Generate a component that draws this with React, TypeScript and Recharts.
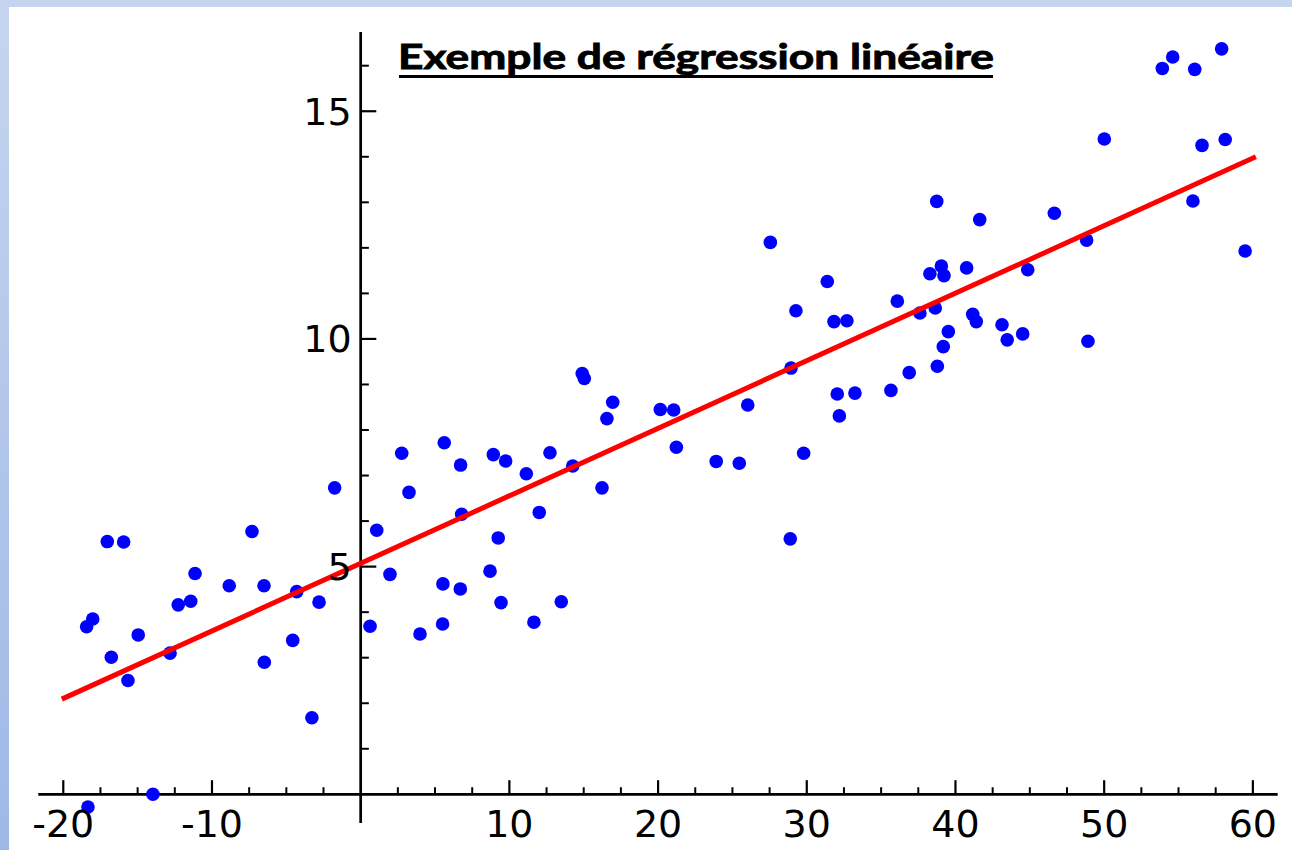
import React from 'react';
import { ScatterChart, Scatter, XAxis, YAxis, ReferenceLine } from 'recharts';

const chartTitle = 'Exemple de régression linéaire';

const pointX = [
  -18.34, -18.43, -18.02, -17.04, -16.77, -15.94, -15.65, -14.96, -13.97, -12.82,
  -12.27, -11.43, -11.14, -8.84, -7.31, -6.5, -6.48, -4.57, -4.3, -3.28,
  -2.8, -1.75, 0.63, 1.08, 1.97, 2.76, 3.25, 3.99, 5.51, 5.53,
  5.62, 6.7, 6.72, 6.79, 8.7, 8.92, 9.25, 9.44, 9.75, 11.14,
  11.65, 12.01, 12.73, 13.49, 14.26, 14.9, 15.04, 16.23, 16.56, 16.95,
  20.15, 21.05, 21.23, 23.91, 25.46, 26.03, 27.55, 28.89, 28.94, 29.27,
  29.79, 31.38, 31.83, 32.05, 32.19, 32.7, 33.24, 35.66, 36.09, 36.89,
  37.61, 38.28, 38.64, 38.74, 38.78, 39.05, 39.23, 39.18, 39.52, 40.75,
  41.16, 41.4, 41.63, 43.13, 43.48, 44.52, 44.86, 46.65, 48.82, 48.91,
  50.01, 53.91, 54.61, 56.09, 55.97, 56.58, 57.9, 58.14, 59.48,
];

const pointY = [
  -0.28, 3.68, 3.85, 5.55, 3.01, 5.54, 2.5, 3.5, 0.0, 3.1,
  4.16, 4.24, 4.85, 4.58, 5.77, 4.58, 2.9, 3.38, 4.45, 1.68,
  4.22, 6.73, 3.69, 5.8, 4.83, 7.49, 6.63, 3.52, 3.74, 4.62,
  7.72, 4.51, 7.23, 6.15, 4.9, 7.46, 5.63, 4.21, 7.32, 7.04,
  3.78, 6.19, 7.5, 4.23, 7.21, 9.24, 9.13, 6.73, 8.25, 8.61,
  8.45, 8.44, 7.62, 7.31, 7.27, 8.55, 12.12, 5.61, 9.36, 10.62,
  7.49, 11.26, 10.38, 8.79, 8.31, 10.4, 8.81, 8.87, 10.83, 9.26,
  10.57, 11.43, 10.68, 13.02, 9.4, 11.6, 11.39, 9.83, 10.16, 11.56,
  10.54, 10.38, 12.62, 10.31, 9.98, 10.11, 11.52, 12.76, 12.17, 9.95,
  14.39, 15.94, 16.19, 15.92, 13.03, 14.25, 16.37, 14.38, 11.93,
];

const fitX = [-20.1, 60.2];
const fitY = [2.09, 14.0];

const xMajorTicks = [-20, -10, 10, 20, 30, 40, 50, 60];
const xMinorTicks = [
  -17.5, -15, -12.5, -7.5, -5, -2.5, 2.5, 5, 7.5, 12.5, 15, 17.5, 22.5, 25, 27.5,
  32.5, 35, 37.5, 42.5, 45, 47.5, 52.5, 55, 57.5,
];
const yMajorTicks = [5, 10, 15];
const yMinorTicks = [1, 2, 3, 4, 6, 7, 8, 9, 11, 12, 13, 14, 16];

const xDomain: [number, number] = [-21.68, 61.67];
const yDomain: [number, number] = [-0.63, 16.74];

// tick lengths expressed in data units
const xMajorLen = 0.31;
const xMinorLen = 0.155;
const yMajorLen = 1.05;
const yMinorLen = 0.55;

const points = pointX.map((x, i) => ({ x, y: pointY[i] }));
const fitLine = fitX.map((x, i) => ({ x, y: fitY[i] }));

const labelFont = { fontSize: 38, fontFamily: 'DejaVu Sans', fill: '#000' };

const Dot = (p: any) => <circle cx={p.cx} cy={p.cy} r={6.8} fill="#0000ff" />;
const NoShape = () => <g />;

export default function App() {
  return (
    <div
      style={{
        position: 'absolute',
        left: 0,
        top: 0,
        width: 1292,
        height: 850,
        background: 'linear-gradient(180deg, #c6d5ef 0%, #9eb8e6 100%)',
        overflow: 'hidden',
      }}
    >
      <div style={{ position: 'absolute', left: 9, top: 7, right: 0, bottom: 0, background: '#fff' }} />
      <div style={{ position: 'absolute', left: 0, top: 0 }}>
        <ScatterChart width={1292} height={850} margin={{ top: 32, right: 14.3, bottom: 27, left: 38.3 }}>
          <XAxis type="number" dataKey="x" domain={xDomain} allowDataOverflow hide />
          <YAxis type="number" dataKey="y" domain={yDomain} allowDataOverflow hide />
          <ReferenceLine y={0} stroke="#000" strokeWidth={2.7} />
          <ReferenceLine x={0} stroke="#000" strokeWidth={2.7} />
          {xMajorTicks.map((t) => (
            <ReferenceLine
              key={'xM' + t}
              segment={[{ x: t, y: 0 }, { x: t, y: xMajorLen }]}
              stroke="#000"
              strokeWidth={2.2}
              label={{ value: String(t), position: 'bottom', offset: 16, ...labelFont }}
            />
          ))}
          {xMinorTicks.map((t) => (
            <ReferenceLine key={'xm' + t} segment={[{ x: t, y: 0 }, { x: t, y: xMinorLen }]} stroke="#000" strokeWidth={2} />
          ))}
          {yMajorTicks.map((t) => (
            <ReferenceLine
              key={'yM' + t}
              segment={[{ x: 0, y: t }, { x: yMajorLen, y: t }]}
              stroke="#000"
              strokeWidth={2.2}
              label={{ value: String(t), position: 'left', offset: 9, ...labelFont }}
            />
          ))}
          {yMinorTicks.map((t) => (
            <ReferenceLine key={'ym' + t} segment={[{ x: 0, y: t }, { x: yMinorLen, y: t }]} stroke="#000" strokeWidth={2} />
          ))}
          <Scatter data={points} shape={Dot} isAnimationActive={false} />
          <Scatter
            data={fitLine}
            shape={NoShape}
            line={{ stroke: '#ff0000', strokeWidth: 5 }}
            isAnimationActive={false}
          />
        </ScatterChart>
      </div>
      <svg style={{ position: 'absolute', left: 0, top: 0 }} width={1292} height={100}>
        <text
          x={398}
          y={69}
          fontFamily="Lato"
          fontWeight={700}
          fontSize={35}
          fill="#000"
          stroke="#000"
          strokeWidth={0.9}
          textLength={596}
          lengthAdjust="spacingAndGlyphs"
        >
          {chartTitle}
        </text>
        <line x1={399} x2={993} y1={76.5} y2={76.5} stroke="#000" strokeWidth={3} />
      </svg>
    </div>
  );
}
